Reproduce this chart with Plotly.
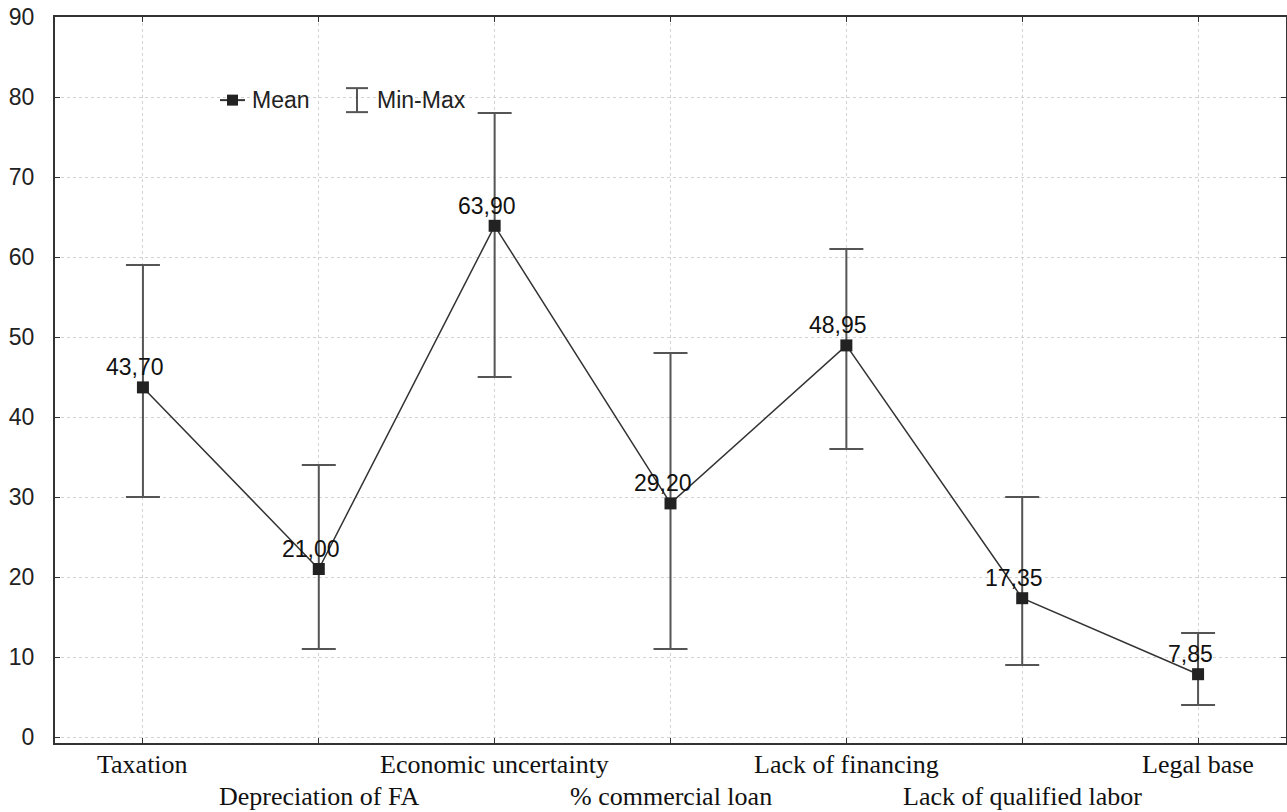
import plotly.graph_objects as go

categories = ["Taxation", "Depreciation of FA", "Economic uncertainty", "% commercial loan",
              "Lack of financing", "Lack of qualified labor", "Legal base"]
means = [43.70, 21.00, 63.90, 29.20, 48.95, 17.35, 7.85]
mins = [30, 11, 45, 11, 36, 9, 4]
maxs = [59, 34, 78, 48, 61, 30, 13]
mean_labels = ["43,70", "21,00", "63,90", "29,20", "48,95", "17,35", "7,85"]
y_ticks = [0, 10, 20, 30, 40, 50, 60, 70, 80, 90]

xs = list(range(len(categories)))
err_plus = [mx - m for mx, m in zip(maxs, means)]
err_minus = [m - mn for mn, m in zip(mins, means)]

fig = go.Figure()
fig.add_trace(go.Scatter(
    x=xs, y=means, mode="lines+markers",
    line=dict(color="#333", width=1.5),
    marker=dict(symbol="square", size=12, color="#222"),
    error_y=dict(type="data", symmetric=False, array=err_plus, arrayminus=err_minus,
                 color="#555", thickness=2, width=17),
    showlegend=False,
))

for x, m, lab in zip(xs, means, mean_labels):
    fig.add_annotation(x=x, y=m, xref="x", yref="y", text=lab, showarrow=False,
                       xshift=-8, yshift=20, yanchor="middle",
                       font=dict(family="Liberation Sans, Arial", size=23, color="#111"))

GRID = "rgba(205,205,205,0.9)"
fig.update_layout(
    width=1287, height=812,
    margin=dict(l=55, r=1, t=17, b=69),
    paper_bgcolor="white", plot_bgcolor="white",
    xaxis=dict(range=[-0.5, 6.5], tickvals=xs, ticktext=[""] * len(xs), automargin=False,
               showgrid=True, gridcolor=GRID, griddash="dot", gridwidth=1,
               showline=True, linecolor="#333", linewidth=2, mirror="ticks",
               ticks="inside", ticklen=5, tickcolor="#333", zeroline=False),
    yaxis=dict(range=[-0.75, 90], tickvals=y_ticks, automargin=False,
               showgrid=True, gridcolor=GRID, griddash="dot", gridwidth=1,
               showline=True, linecolor="#333", linewidth=2, mirror="ticks",
               ticks="inside", ticklen=5, tickcolor="#333", zeroline=False,
               tickfont=dict(family="Liberation Sans, Arial", size=23, color="#222"),
               ticklabelstandoff=14),
)

# category labels, alternating rows
for i, c in enumerate(categories):
    fig.add_annotation(x=i, xref="x", y=0, yref="paper", yanchor="top",
                       yshift=-5 if i % 2 == 0 else -37, text=c, showarrow=False,
                       font=dict(family="Liberation Serif, Times New Roman", size=26, color="#111"))

# manual legend
ly = 0.8855
fig.add_shape(type="line", xref="paper", yref="paper", x0=(220-55)/1231, x1=(245-55)/1231,
              y0=ly, y1=ly, line=dict(color="#333", width=2))
fig.add_shape(type="rect", xref="paper", yref="paper",
              x0=(227-55)/1231, x1=(238-55)/1231, y0=ly - 5.5/726, y1=ly + 5.5/726,
              fillcolor="#222", line=dict(color="#222", width=0))
fig.add_annotation(xref="paper", yref="paper", x=(250-55)/1231, y=ly, xanchor="left",
                   yanchor="middle", text="Mean", showarrow=False,
                   font=dict(family="Liberation Sans, Arial", size=23, color="#222"))
# Min-Max icon
cx = (357-55)/1231
fig.add_shape(type="line", xref="paper", yref="paper", x0=cx, x1=cx,
              y0=ly - 12/726, y1=ly + 12/726, line=dict(color="#555", width=2))
for dy in (-12, 12):
    fig.add_shape(type="line", xref="paper", yref="paper", x0=cx - 11/1231, x1=cx + 11/1231,
                  y0=ly + dy/726, y1=ly + dy/726, line=dict(color="#555", width=2))
fig.add_annotation(xref="paper", yref="paper", x=(375-55)/1231, y=ly, xanchor="left",
                   yanchor="middle", text="Min-Max", showarrow=False,
                   font=dict(family="Liberation Sans, Arial", size=23, color="#222"))

fig.write_html("out.html", config={"displayModeBar": False},
               post_script="document.body.style.margin='0';document.body.style.overflow='hidden';")
